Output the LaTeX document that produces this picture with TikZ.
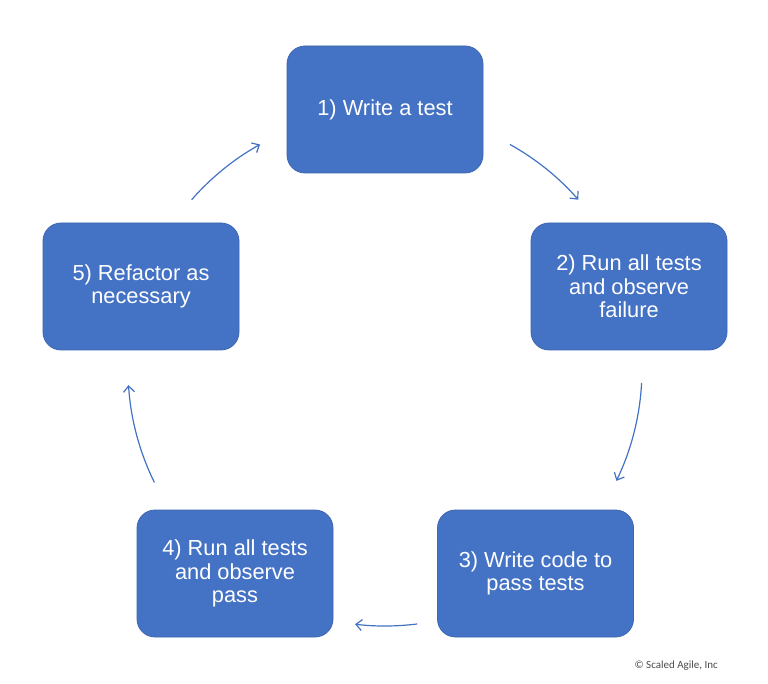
\documentclass[tikz,border=0pt]{standalone}
\usepackage{fontspec}
\setmainfont{Liberation Sans}
\newfontfamily\copyfont{Carlito}
\usetikzlibrary{arrows.meta}
\definecolor{boxblue}{HTML}{4472C4}
\definecolor{boxedge}{HTML}{3E66B0}
\definecolor{arrowblue}{HTML}{4472C4}
\tikzset{
  stepbox/.style={draw=boxedge, line width=0.8pt, fill=boxblue, rounded corners=18pt,
    minimum width=196pt, minimum height=127pt, text=white, align=center,
    font=\fontsize{21.8}{23.5}\selectfont, inner sep=0pt},
  cyclearrow/.style={draw=arrowblue, line width=1.2pt,
    -{Straight Barb[length=6pt,width=11pt,line width=1.2pt]}},
}
\begin{document}
\begin{tikzpicture}[x=1pt,y=1pt]
  \fill[white] (0,0) rectangle (768,-684);
  \useasboundingbox (0,0) rectangle (768,-684);
  \node[stepbox] (b1) at (385,-109.5) {1) Write a test};
  \node[stepbox] (b2) at (629,-286.5) {2) Run all tests\\and observe\\failure};
  \node[stepbox] (b3) at (535.5,-573.5) {3) Write code to\\pass tests};
  \node[stepbox] (b4) at (235,-573.5) {4) Run all tests\\and observe\\pass};
  \node[stepbox] (b5) at (141,-286.5) {5) Refactor as\\necessary};
  \coordinate (c) at (385,-369);
  \coordinate (s12) at ([shift={(60.9:257pt)}]c);
  \coordinate (s23) at ([shift={(-3.1:257pt)}]c);
  \coordinate (s34) at ([shift={(-82.8:257pt)}]c);
  \coordinate (s45) at ([shift={(206.2:257pt)}]c);
  \coordinate (s51) at ([shift={(138.8:257pt)}]c);
  \draw[cyclearrow] (s12) arc[start angle=60.9, end angle=41.2, radius=257pt];
  \draw[cyclearrow] (s23) arc[start angle=-3.1, end angle=-25.8, radius=257pt];
  \draw[cyclearrow] (s34) arc[start angle=-82.8, end angle=-96.7, radius=257pt];
  \draw[cyclearrow] (s45) arc[start angle=206.2, end angle=183.6, radius=257pt];
  \draw[cyclearrow] (s51) arc[start angle=138.8, end angle=119.1, radius=257pt];
  \node[font=\copyfont\fontsize{11}{13}\selectfont, text=black!70, anchor=west] (copy) at (631,-666) {© Scaled Agile, Inc};
\end{tikzpicture}
\end{document}
